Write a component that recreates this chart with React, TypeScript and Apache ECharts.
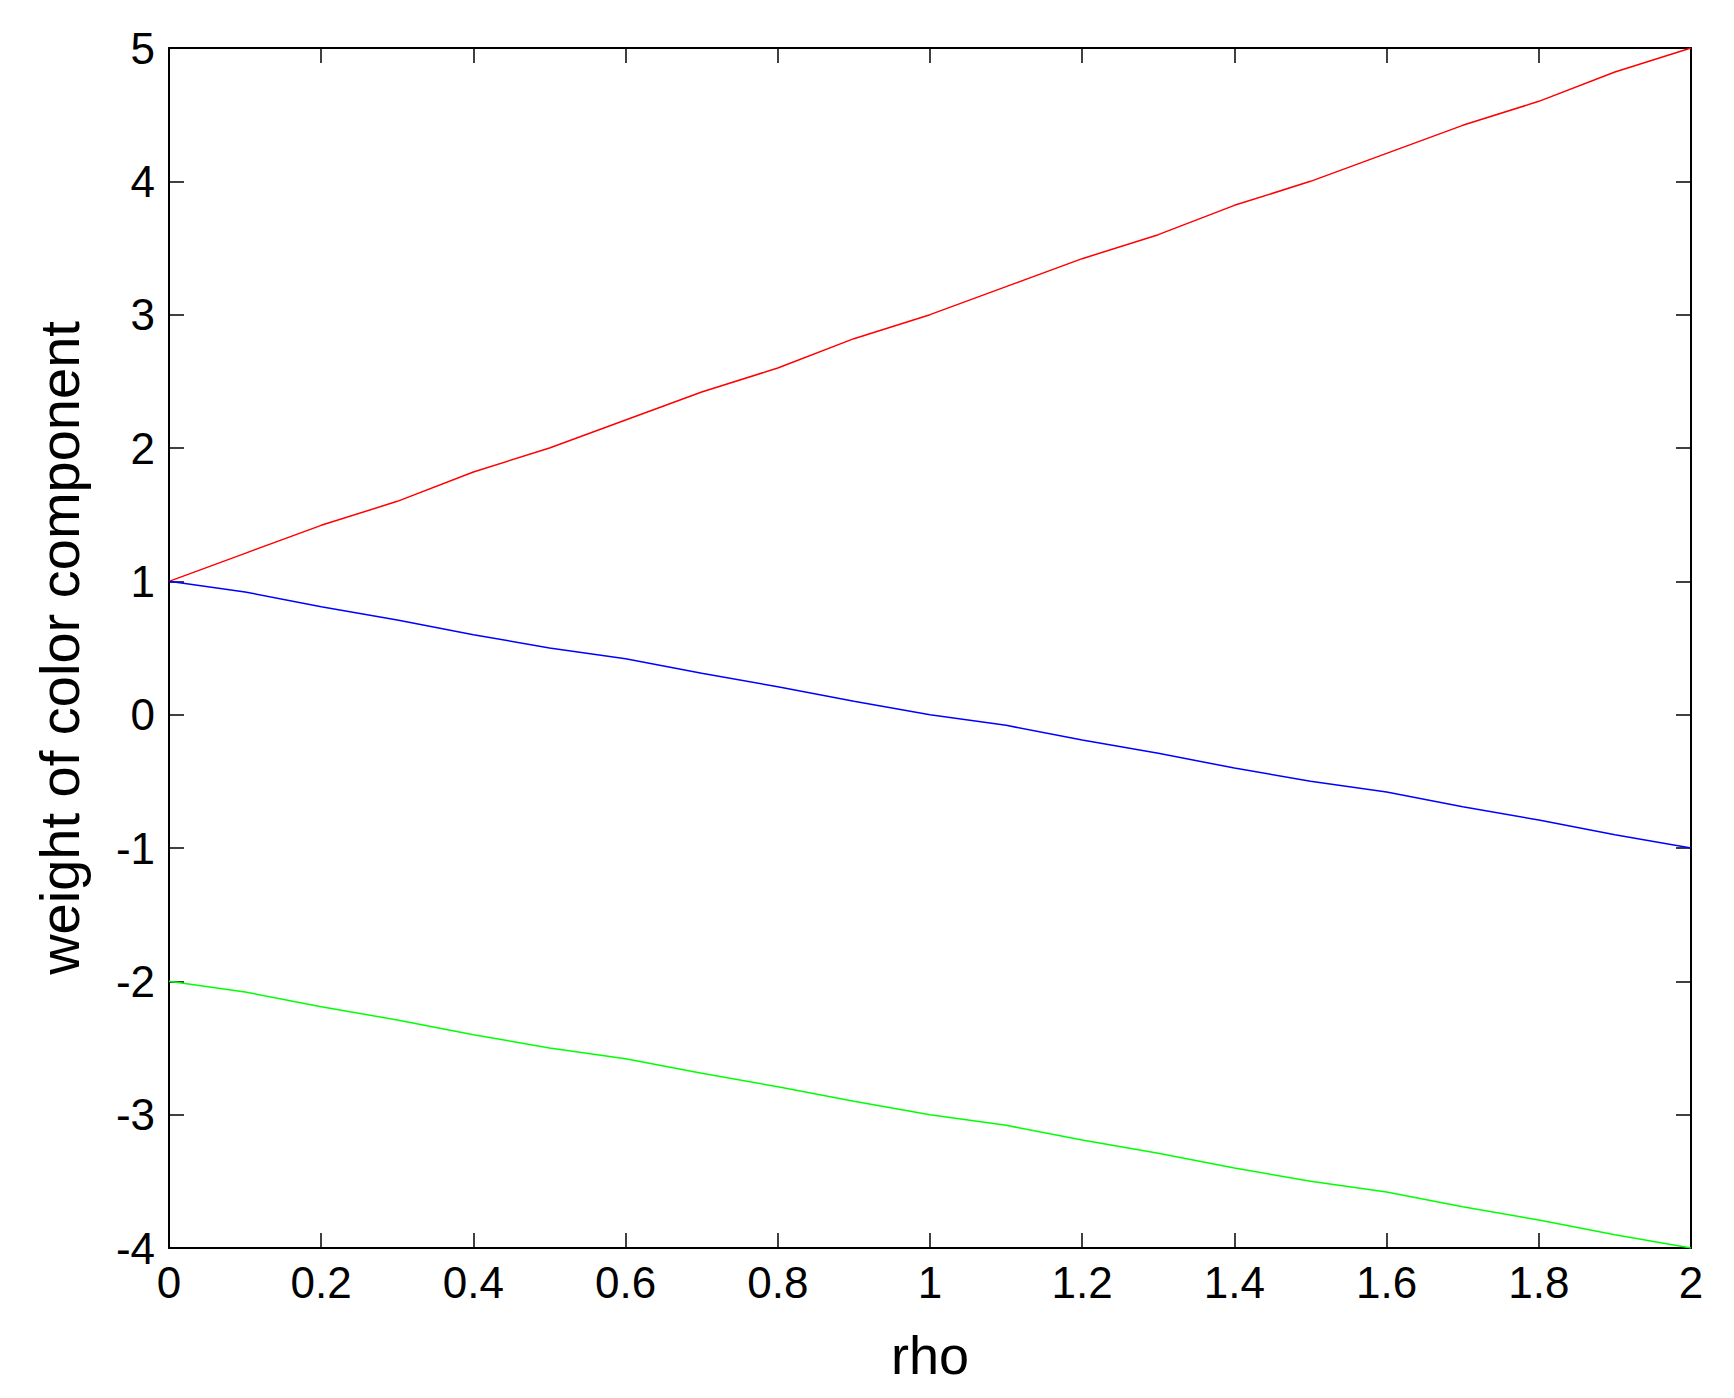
import React, { useEffect, useRef } from "react";
import * as echarts from "echarts";

const rho = [0, 0.1, 0.2, 0.3, 0.4, 0.5, 0.6, 0.7, 0.8, 0.9, 1.0, 1.1, 1.2, 1.3, 1.4, 1.5, 1.6, 1.7, 1.8, 1.9, 2.0];
const redWeights = [1, 1.21, 1.42, 1.6, 1.82, 2.0, 2.21, 2.42, 2.6, 2.82, 3.0, 3.21, 3.42, 3.6, 3.82, 4.0, 4.21, 4.42, 4.6, 4.82, 5.0];
const blueWeights = [1, 0.92, 0.81, 0.71, 0.6, 0.5, 0.42, 0.31, 0.21, 0.1, 0, -0.08, -0.19, -0.29, -0.4, -0.5, -0.58, -0.69, -0.79, -0.9, -1];
const greenWeights = [-2, -2.08, -2.19, -2.29, -2.4, -2.5, -2.58, -2.69, -2.79, -2.9, -3, -3.08, -3.19, -3.29, -3.4, -3.5, -3.58, -3.69, -3.79, -3.9, -4];
const xTickLabels = ["0", "0.2", "0.4", "0.6", "0.8", "1", "1.2", "1.4", "1.6", "1.8", "2"];
const yTickLabels = ["-4", "-3", "-2", "-1", "0", "1", "2", "3", "4", "5"];

const FONT = "'Liberation Sans', Arial, sans-serif";

export default function App() {
  const ref = useRef<HTMLDivElement>(null);
  useEffect(() => {
    if (!ref.current) return;
    const chart = echarts.init(ref.current, null, { renderer: "svg" });
    const axisLine = { show: true, onZero: false, lineStyle: { color: "#000", width: 2 } };
    const axisTick = { show: true, inside: true, length: 15, lineStyle: { color: "#000", width: 1.5 } };
    const xFmt = (v: number) => xTickLabels[Math.round(v / 0.2)] ?? "";
    const yFmt = (v: number) => yTickLabels[Math.round(v + 4)] ?? "";
    const mk = (data: number[], color: string, name: string) => ({
      type: "line",
      name,
      data: rho.map((r, i) => [r, data[i]]),
      showSymbol: false,
      symbol: "none",
      lineStyle: { color, width: 1.5 },
      itemStyle: { color },
    });
    chart.setOption({
      animation: false,
      backgroundColor: "#fff",
      grid: { left: 169, right: 43, top: 48, bottom: 150 },
      xAxis: [
        {
          type: "value",
          min: 0,
          max: 2,
          interval: 0.2,
          position: "bottom",
          name: "rho",
          nameLocation: "middle",
          nameGap: 80,
          nameTextStyle: { fontFamily: FONT, fontSize: 54, color: "#000" },
          axisLine,
          axisTick,
          splitLine: { show: false },
          axisLabel: { formatter: xFmt, fontFamily: FONT, fontSize: 44, color: "#000", margin: 12 },
        },
        {
          type: "value",
          min: 0,
          max: 2,
          interval: 0.2,
          position: "top",
          axisLine,
          axisTick,
          splitLine: { show: false },
          axisLabel: { show: false },
        },
      ],
      yAxis: [
        {
          type: "value",
          min: -4,
          max: 5,
          interval: 1,
          position: "left",
          name: "weight of color component",
          nameLocation: "middle",
          nameGap: 82,
          nameRotate: 90,
          nameTextStyle: { fontFamily: FONT, fontSize: 56, color: "#000" },
          axisLine,
          axisTick,
          splitLine: { show: false },
          axisLabel: { formatter: yFmt, fontFamily: FONT, fontSize: 44, color: "#000", margin: 14 },
        },
        {
          type: "value",
          min: -4,
          max: 5,
          interval: 1,
          position: "right",
          axisLine,
          axisTick,
          splitLine: { show: false },
          axisLabel: { show: false },
        },
      ],
      series: [
        mk(redWeights, "#ff0000", "red"),
        mk(blueWeights, "#0000ff", "blue"),
        mk(greenWeights, "#00ff00", "green"),
      ],
    });
    return () => chart.dispose();
  }, []);
  return (
    <div
      ref={ref}
      style={{ position: "fixed", left: 0, top: 0, width: 1734, height: 1398, background: "#fff" }}
    />
  );
}
